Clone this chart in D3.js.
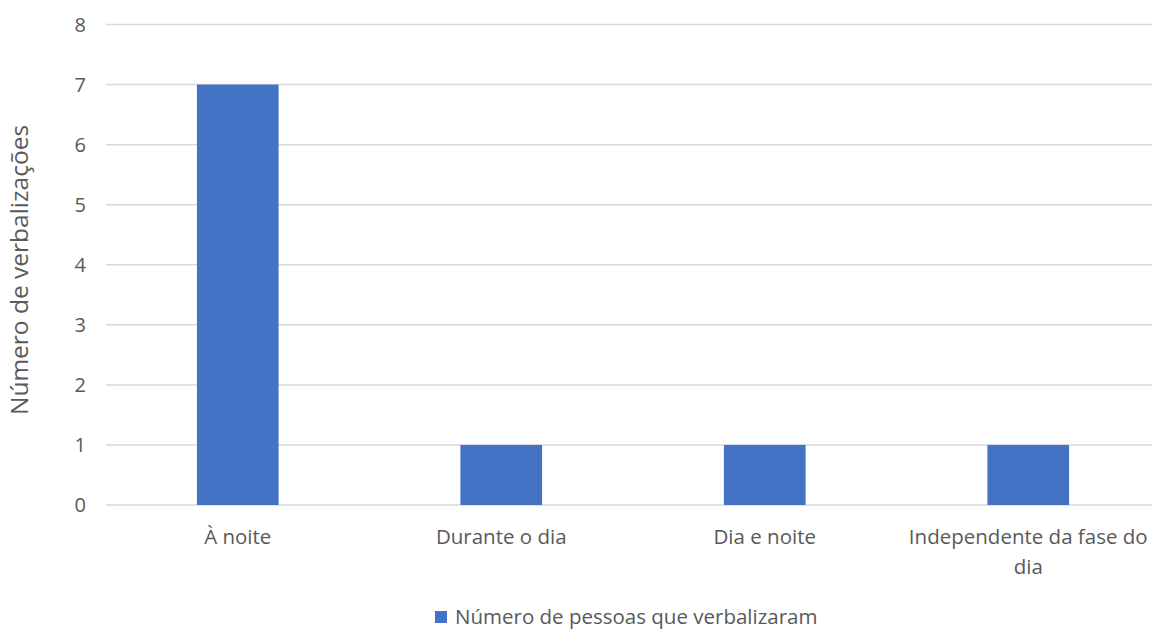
<!DOCTYPE html>
<html>
<head>
<meta charset="utf-8">
<script src="https://cdn.jsdelivr.net/npm/d3@7"></script>
<style>
  html, body { margin: 0; padding: 0; background: #fff; }
  svg { display: block; font-family: "Open Sans", "Liberation Sans", sans-serif; }
</style>
</head>
<body>
<svg id="chart" width="1152" height="630"></svg>
<script>
// Quando ocorrem as verbalizações
const categories = ["À noite", "Durante o dia", "Dia e noite", "Independente da fase do dia"];
const values = [7, 1, 1, 1];
const yTicks = [0, 1, 2, 3, 4, 5, 6, 7, 8];
const seriesName = "Número de pessoas que verbalizaram";
const yTitle = "Número de verbalizações";

const svg = d3.select("#chart");
const textColor = "#595959";
const barColor = "#4472C4";
const gridColor = "#d9d9d9";

const x = d3.scaleBand()
  .domain(categories)
  .range([106, 1160])
  .paddingInner(0.69)
  .paddingOuter(0.345);

const y = d3.scaleLinear()
  .domain([0, 8])
  .range([505, 24.5]);

// gridlines
svg.append("g")
  .selectAll("line")
  .data(yTicks)
  .join("line")
  .attr("x1", 106)
  .attr("x2", 1160)
  .attr("y1", d => y(d))
  .attr("y2", d => y(d))
  .attr("stroke", gridColor)
  .attr("stroke-width", 1.5);

// y tick labels
svg.append("g")
  .selectAll("text")
  .data(yTicks)
  .join("text")
  .attr("x", 86)
  .attr("y", d => y(d))
  .attr("dy", "0.35em")
  .attr("text-anchor", "end")
  .attr("fill", textColor)
  .attr("font-size", 20)
  .text(d => d);

// bars
svg.append("g")
  .selectAll("rect")
  .data(categories)
  .join("rect")
  .attr("x", d => x(d))
  .attr("width", x.bandwidth())
  .attr("y", (d, i) => y(values[i]))
  .attr("height", (d, i) => y(0) - y(values[i]))
  .attr("fill", barColor);

// category labels, wrapped to the band width
const labels = svg.append("g")
  .selectAll("text")
  .data(categories)
  .join("text")
  .attr("text-anchor", "middle")
  .attr("fill", textColor)
  .attr("font-size", 20.5);

labels.each(function(d) {
  const t = d3.select(this);
  const cx = x(d) + x.bandwidth() / 2;
  const maxW = x.step() - 10;
  const words = d.split(" ");
  let lines = [];
  let line = [];
  const probe = t.append("tspan");
  for (const w of words) {
    const trial = line.concat(w).join(" ");
    probe.text(trial);
    if (probe.node().getComputedTextLength() > maxW && line.length) {
      lines.push(line.join(" "));
      line = [w];
    } else {
      line.push(w);
    }
  }
  lines.push(line.join(" "));
  probe.remove();
  lines.forEach((l, i) => {
    t.append("tspan")
      .attr("x", cx)
      .attr("y", 544 + i * 30)
      .text(l);
  });
});

// y axis title
svg.append("text")
  .attr("transform", "translate(28,270) rotate(-90)")
  .attr("text-anchor", "middle")
  .attr("fill", textColor)
  .attr("font-size", 24.5)
  .text(yTitle);

// legend
const legend = svg.append("g").attr("transform", "translate(435,611)");
legend.append("rect")
  .attr("x", 0).attr("y", 0)
  .attr("width", 12).attr("height", 12)
  .attr("fill", barColor);
legend.append("text")
  .attr("x", 20).attr("y", 6)
  .attr("dy", "0.35em")
  .attr("fill", textColor)
  .attr("font-size", 20.5)
  .text(seriesName);
</script>
</body>
</html>
